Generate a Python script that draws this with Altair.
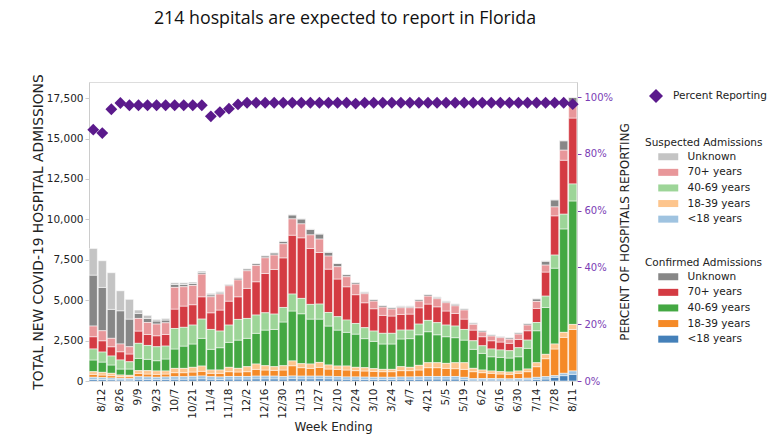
import altair as alt
import pandas as pd

weeks = ["8/5", "8/12", "8/19", "8/26", "9/2", "9/9", "9/16", "9/23", "9/30",
         "10/7", "10/14", "10/21", "10/28", "11/4", "11/11", "11/18", "11/25",
         "12/2", "12/9", "12/16", "12/23", "12/30", "1/6", "1/13", "1/20", "1/27",
         "2/3", "2/10", "2/17", "2/24", "3/3", "3/10", "3/17", "3/24", "3/31",
         "4/7", "4/14", "4/21", "4/28", "5/5", "5/12", "5/19", "5/26", "6/2",
         "6/9", "6/16", "6/23", "6/30", "7/7", "7/14", "7/21", "7/28", "8/4", "8/11"]
tick_weeks = weeks[1::2]

# cumulative tops of each stacked segment
top_conf_lt18 = [100, 90, 80, 70, 60, 110, 100, 100, 100, 110, 110, 120, 130, 110, 100, 120, 120, 120,
                 130, 130, 130, 120, 140, 130, 130, 140, 130, 120, 110, 110, 100, 100, 100, 100, 110,
                 110, 110, 120, 120, 120, 120, 100, 60, 60, 60, 60, 55, 60, 70, 100, 120, 227, 330, 412]
top_susp_lt18 = [230, 205, 185, 165, 145, 265, 250, 230, 250, 265, 265, 290, 310, 265, 250, 280, 280, 280,
                 300, 300, 300, 268, 310, 300, 300, 300, 290, 270, 250, 250, 240, 230, 230, 230, 250,
                 250, 260, 280, 280, 280, 280, 227, 144, 150, 150, 140, 130, 150, 170, 227, 268, 330, 475, 618]
top_conf_18_39 = [410, 370, 330, 267, 265, 475, 430, 410, 430, 515, 515, 555, 600, 475, 475, 577, 556, 577,
                  720, 680, 660, 680, 945, 824, 783, 845, 740, 720, 680, 640, 618, 597, 577, 577, 640,
                  640, 680, 824, 824, 783, 762, 720, 577, 515, 475, 433, 412, 475, 577, 885, 1380, 1980, 2700, 3190]
top_susp_18_39 = [575, 535, 475, 370, 350, 640, 640, 620, 620, 780, 780, 845, 925, 680, 680, 845, 783, 885,
                  1050, 945, 885, 945, 1240, 1070, 1050, 1150, 990, 927, 927, 845, 824, 762, 720, 720, 885,
                  845, 968, 1130, 1130, 1090, 1130, 1130, 783, 680, 618, 577, 556, 618, 742, 1130, 1650, 2290, 3010, 3500]
top_conf_40_69 = [1300, 1170, 990, 740, 740, 1400, 1340, 1255, 1360, 1980, 2160, 2290, 2640, 1960, 2060, 2390,
                  2530, 2640, 2950, 3150, 3190, 3650, 4330, 4160, 3830, 3830, 3400, 3150, 3010, 2900, 2620,
                  2450, 2290, 2290, 2600, 2620, 2860, 3050, 2860, 2740, 2680, 2530, 1960, 1710, 1500, 1460,
                  1420, 1500, 2020, 3110, 4550, 6980, 9410, 11140]
top_susp_40_69 = [1980, 1790, 1545, 1300, 1190, 2330, 2200, 2120, 2160, 3250, 3320, 3460, 3830, 3190, 3090, 3460,
                  3810, 3870, 4080, 4220, 4140, 4550, 5380, 5110, 4740, 4760, 4240, 3980, 3770, 3560, 3300,
                  3090, 2950, 2950, 3150, 3150, 3520, 3750, 3610, 3460, 3400, 3190, 2490, 2180, 1980, 1920,
                  1875, 2060, 2530, 3620, 5250, 7790, 10320, 12190]
top_conf_70 = [2740, 2490, 2120, 1810, 1670, 3090, 2880, 2800, 2880, 4450, 4635, 4720, 5210, 4220, 4390, 4940,
               5210, 5730, 6140, 6650, 6900, 7620, 9020, 8860, 8200, 7950, 6920, 6310, 5830, 5340, 4840,
               4470, 4060, 4020, 4120, 4140, 4530, 4760, 4590, 4330, 4180, 3830, 3150, 2740, 2490, 2410,
               2330, 2570, 3110, 4490, 6740, 10220, 13660, 16270]
top_susp_70 = [3400, 3110, 2640, 2290, 2120, 3870, 3620, 3520, 3600, 5790, 5830, 5910, 6610, 5210, 5380, 5890,
               6250, 6820, 7150, 7620, 7790, 8490, 10030, 9720, 9040, 8780, 7730, 7070, 6450, 5990, 5400,
               4940, 4570, 4450, 4530, 4530, 4940, 5250, 5090, 4840, 4650, 4390, 3500, 3030, 2780, 2680,
               2580, 2900, 3460, 4920, 7170, 10770, 14280, 17200]
top_conf_unknown = [6550, 5790, 4430, 4345, 3830, 4180, 3870, 3710, 3770, 5970, 5970, 6030, 6720, 5330, 5450, 5970,
                    6360, 6930, 7260, 7740, 7920, 8640, 10270, 10020, 9380, 9090, 7960, 7270, 6580, 6090, 5490,
                    5040, 4670, 4540, 4620, 4620, 5040, 5350, 5180, 4930, 4750, 4460, 3580, 3120, 2850, 2750,
                    2670, 2980, 3550, 5080, 7410, 11200, 14860, 17540]
top_total = [8200, 7440, 6700, 5580, 5050, 4390, 4060, 3810, 3870, 6080, 6080, 6120, 6800, 5420, 5530, 6000,
             6390, 6960, 7290, 7770, 7950, 8670, 10300, 10050, 9410, 9120, 7990, 7300, 6610, 6120, 5520,
             5070, 4700, 4570, 4650, 4650, 5070, 5380, 5210, 4960, 4780, 4490, 3610, 3150, 2880, 2780,
             2700, 3010, 3580, 5110, 7440, 11230, 14890, 17570]

pct_reporting = [0.885, 0.873, 0.957, 0.979, 0.971, 0.971, 0.971, 0.971, 0.971, 0.971, 0.971, 0.971, 0.971,
                 0.932, 0.947, 0.959, 0.974, 0.980, 0.980, 0.980, 0.980, 0.980, 0.980, 0.980, 0.980, 0.980,
                 0.980, 0.980, 0.980, 0.977, 0.980, 0.980, 0.980, 0.980, 0.980, 0.980, 0.980, 0.980, 0.980,
                 0.980, 0.980, 0.980, 0.980, 0.980, 0.980, 0.980, 0.980, 0.980, 0.980, 0.980, 0.980, 0.980,
                 0.980, 0.975]

age_order = ["Unknown", "70+ years", "40-69 years", "18-39 years", "<18 years"]
conf_colors = ["#878787", "#d43b43", "#44a843", "#f58a27", "#4480b9"]
susp_colors = ["#c4c4c4", "#e8979a", "#9dd598", "#fdc58d", "#9fc3e0"]
purple = "#5b1a8c"
purple_txt = "#7a3db5"

segments = [
    ("Confirmed", "<18 years", None, top_conf_lt18),
    ("Suspected", "<18 years", top_conf_lt18, top_susp_lt18),
    ("Confirmed", "18-39 years", top_susp_lt18, top_conf_18_39),
    ("Suspected", "18-39 years", top_conf_18_39, top_susp_18_39),
    ("Confirmed", "40-69 years", top_susp_18_39, top_conf_40_69),
    ("Suspected", "40-69 years", top_conf_40_69, top_susp_40_69),
    ("Confirmed", "70+ years", top_susp_40_69, top_conf_70),
    ("Suspected", "70+ years", top_conf_70, top_susp_70),
    ("Confirmed", "Unknown", top_susp_70, top_conf_unknown),
    ("Suspected", "Unknown", top_conf_unknown, top_total),
]
rows = []
for kind, age, lo, hi in segments:
    for i, w in enumerate(weeks):
        rows.append({"week": w, "kind": kind, "age": age,
                     "y0": 0 if lo is None else lo[i], "y1": hi[i]})
df = pd.DataFrame(rows)
df_pct = pd.DataFrame({"week": weeks, "pct": pct_reporting, "label": "Percent Reporting"})

FONT = "DejaVu Sans"

x_enc = alt.X("week:N", sort=weeks,
              scale=alt.Scale(paddingInner=0.1, paddingOuter=0.02),
              axis=alt.Axis(values=tick_weeks, labelAngle=270, labelFont=FONT, labelFontSize=10.5,
                            labelColor="#222222", tickColor="#222222", tickSize=4, domain=False,
                            title="Week Ending", titleFont=FONT, titleFontSize=12,
                            titleFontWeight="normal", titleColor="#222222", titlePadding=3,
                            labelPadding=3))

y_axis = alt.Axis(title="TOTAL NEW COVID-19 HOSPITAL ADMISSIONS", values=list(range(0, 17501, 2500)),
                  format=",d", grid=False, domainColor="#cccccc", tickColor="#cccccc", tickSize=4,
                  labelFont=FONT, labelFontSize=10.5, labelColor="#222222", labelPadding=2,
                  titleFont=FONT, titleFontSize=13.8, titleFontWeight="normal", titleColor="#222222",
                  titlePadding=1)
y_scale = alt.Scale(domain=[0, 18500], nice=False)

def legend(title, y):
    return alt.Legend(title=title, orient="none", legendX=556, legendY=y,
                      symbolType="M-2,-0.7H2V0.7H-2Z", symbolSize=100, symbolStrokeWidth=0,
                      symbolOffset=18, labelOffset=14, rowPadding=4.6,
                      labelFont=FONT, labelFontSize=10.5, labelColor="#222222",
                      titleFont=FONT, titleFontSize=10.5, titleFontWeight="normal", titleColor="#222222",
                      titlePadding=3.5)

conf = alt.Chart(df[df.kind == "Confirmed"]).mark_bar(stroke="white", strokeWidth=0.5).encode(
    x=x_enc,
    y=alt.Y("y0:Q", scale=y_scale, axis=y_axis),
    y2="y1:Q",
    color=alt.Color("age:N", scale=alt.Scale(domain=age_order, range=conf_colors),
                    legend=legend("Confirmed Admissions", 175.5)),
)
susp = alt.Chart(df[df.kind == "Suspected"]).mark_bar(stroke="white", strokeWidth=0.5).encode(
    x=x_enc,
    y=alt.Y("y0:Q", scale=y_scale, axis=y_axis),
    y2="y1:Q",
    color=alt.Color("age:N", scale=alt.Scale(domain=age_order, range=susp_colors),
                    legend=legend("Suspected Admissions", 55.5)),
)
bars = alt.layer(conf, susp).resolve_scale(color="independent")

diamonds = alt.Chart(df_pct).mark_point(filled=True, size=140, color=purple, opacity=1).encode(
    x=x_enc,
    y=alt.Y("pct:Q", scale=alt.Scale(domain=[0, 1.053], nice=False),
            axis=alt.Axis(orient="right", title="PERCENT OF HOSPITALS REPORTING",
                          values=[0, 0.2, 0.4, 0.6, 0.8, 1.0], format=".0%", grid=False,
                          domainColor="#cccccc", tickColor=purple_txt, tickSize=4,
                          labelFont=FONT, labelFontSize=10, labelColor=purple_txt, labelPadding=3,
                          titleFont=FONT, titleFontSize=12, titleFontWeight="normal",
                          titleColor="#222222", titleAngle=270, titlePadding=19)),
    shape=alt.Shape("label:N", scale=alt.Scale(domain=["Percent Reporting"], range=["diamond"]),
                    legend=alt.Legend(title=None, orient="none", legendX=560, legendY=7,
                                      symbolSize=196, symbolFillColor=purple, symbolStrokeWidth=0,
                                      labelOffset=10, labelFont=FONT, labelFontSize=10.5,
                                      labelColor="#222222")),
)

chart = alt.layer(bars, diamonds).resolve_scale(y="independent").properties(
    width=488, height=299,
    title=alt.TitleParams("214 hospitals are expected to report in Florida", font="Open Sans",
                          fontSize=17.8, fontWeight="normal", color="#111111", anchor="middle",
                          dx=12, offset=46),
    autosize=alt.AutoSizeParams(type="none"),
    padding={"left": 89, "top": 82, "right": 195, "bottom": 63},
).configure_view(stroke=None).configure(background="white")

chart.save("out.html", embed_options={"renderer": "svg", "actions": False})
